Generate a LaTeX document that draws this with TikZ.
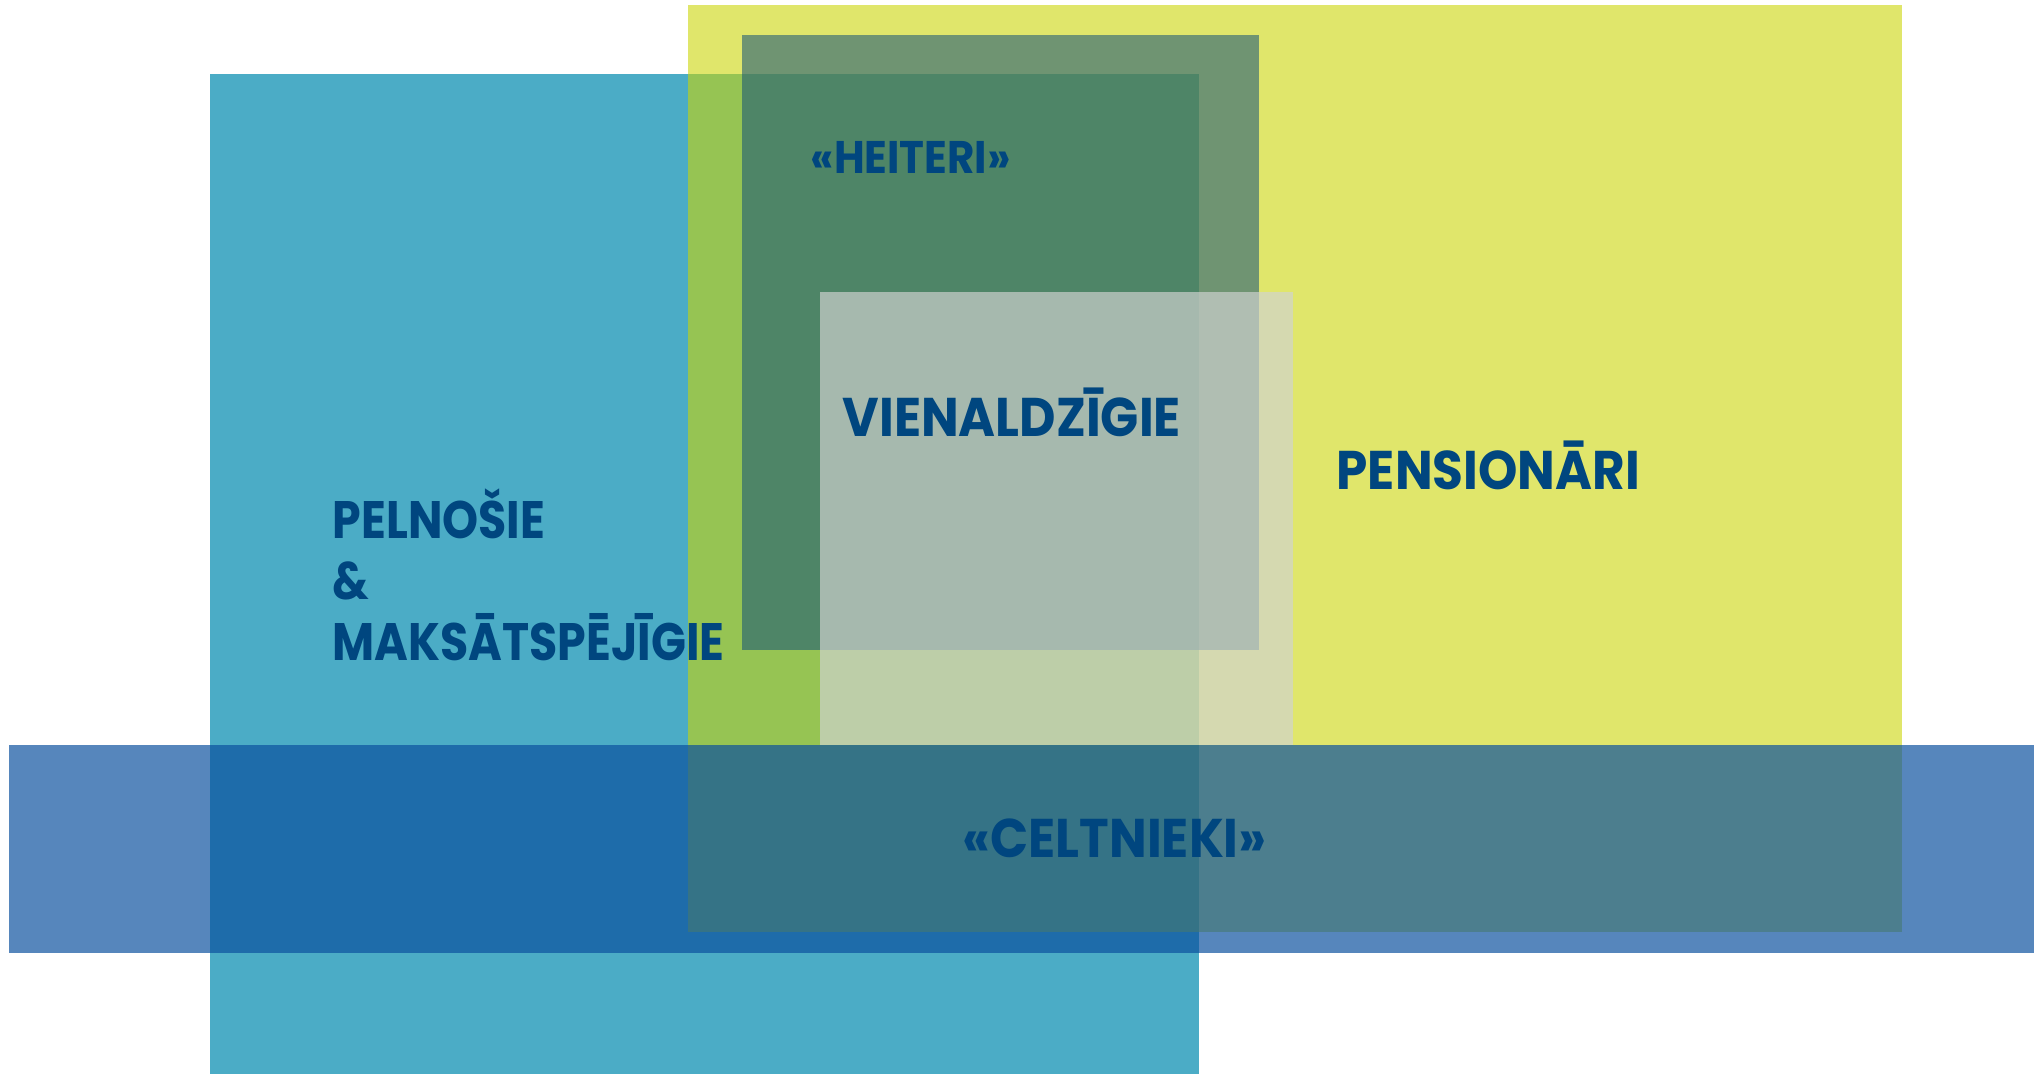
\documentclass[tikz,border=0pt]{standalone}
\usepackage{fontspec}
\setmainfont{Poppins}[FakeStretch=0.92]
\usepackage{tikz}

\definecolor{pelnosiec}{RGB}{75,172,198}
\definecolor{pensionc}{RGB}{203,213,3}
\definecolor{heiteric}{RGB}{22,85,120}
\definecolor{vienaldzc}{RGB}{208,211,209}
\definecolor{celtniekc}{RGB}{10,80,158}
\definecolor{labelblue}{RGB}{0,70,127}

\begin{document}
\begin{tikzpicture}[every node/.style={inner sep=0pt, anchor=base west, text=labelblue, font=\bfseries\fontsize{15.5}{17.4}\selectfont}]
    \useasboundingbox (0,0) rectangle (20.37,10.81);

    % segment boxes
    \fill[pelnosiec] (2.10,0.07) rectangle (11.99,10.07);
    \fill[pensionc, fill opacity=0.59] (6.88,1.49) rectangle (19.02,10.76);
    \fill[heiteric, fill opacity=0.56] (7.42,4.31) rectangle (12.59,10.46);
    \fill[vienaldzc, fill opacity=0.68] (8.20,3.36) rectangle (12.93,7.89);
    \fill[celtniekc, fill opacity=0.69] (0.09,1.28) rectangle (20.34,3.36);

    % labels
    \node[font=\bfseries\fontsize{13}{15}\selectfont] (heit) at (8.10,9.07) {«HEITERI»};
    \node (vien) at (8.42,6.44) {VIENALDZĪGIE};
    \node (pens) at (13.36,5.91) {PENSIONĀRI};
    \node[align=left, font=\bfseries\fontsize{15}{17.4}\selectfont\addfontfeature{FakeStretch=0.87}] (peln) at (3.32,4.20) {PELNOŠIE\\\&\\MAKSĀTSPĒJĪGIE};
    \node (celt) at (9.62,2.23) {«CELTNIEKI»};

\end{tikzpicture}
\end{document}
